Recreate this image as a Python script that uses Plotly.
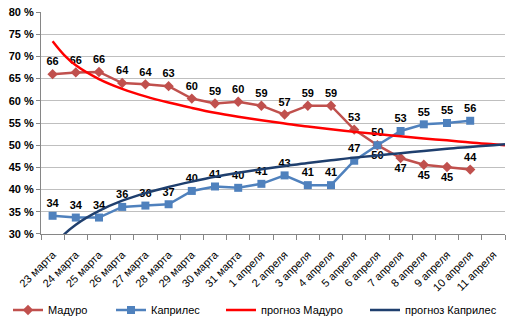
import plotly.graph_objects as go

categories = ["23 марта", "24 марта", "25 марта", "26 марта", "27 марта", "28 марта",
              "29 марта", "30 марта", "31 марта", "1 апреля", "2 апреля", "3 апреля",
              "4 апреля", "5 апреля", "6 апреля", "7 апреля", "8 апреля", "9 апреля",
              "10 апреля", "11 апреля"]

maduro = [66.0, 66.4, 66.5, 64.0, 63.7, 63.3, 60.5, 59.4, 59.8, 58.9, 56.9, 58.9,
          58.9, 53.5, 50.0, 47.1, 45.6, 45.1, 44.5]
maduro_labels = ["66", "66", "66", "64", "64", "63", "60", "59", "60", "59", "57", "59",
                 "59", "53", "50", "47", "45", "45", "44"]

capriles = [34.1, 33.7, 33.7, 36.1, 36.4, 36.7, 39.7, 40.7, 40.4, 41.3, 43.2, 41.0,
            41.0, 46.5, 50.0, 53.2, 54.7, 55.0, 55.5]
capriles_labels = ["34", "34", "34", "36", "36", "37", "40", "41", "40", "41", "43", "41",
                   "41", "47", "50", "53", "55", "55", "56"]

# forecast (trend) curves at each category position
trend_pos = [1, 1.5, 2, 3, 4, 5, 6, 7, 8, 9, 10, 11, 12, 13, 14, 15, 16, 17, 18, 19, 20, 20.5]
forecast_maduro = [73.4, 70.3, 68.0, 64.9, 62.7, 61.0, 59.6, 58.4, 57.3, 56.4, 55.6, 54.9,
                   54.2, 53.6, 53.0, 52.5, 52.0, 51.5, 51.1, 50.6, 50.2, 50.0]
forecast_capriles = [26.7, 29.9, 32.1, 35.2, 37.5, 39.2, 40.6, 41.8, 42.9, 43.8, 44.6, 45.3,
                     46.0, 46.6, 47.2, 47.7, 48.2, 48.7, 49.2, 49.6, 50.0, 50.2]

ytick_vals = [30, 35, 40, 45, 50, 55, 60, 65, 70, 75, 80]
ytick_text = [f"{v} %" for v in ytick_vals]

FONT = "Liberation Sans"
x_pos = list(range(1, len(categories) + 1))

mad_pos = ["top center"] * len(maduro)
for i in (15, 16, 17):
    mad_pos[i] = "bottom center"
cap_pos = ["top center"] * len(capriles)
cap_pos[14] = "bottom center"

fig = go.Figure()
fig.add_trace(go.Scatter(
    x=x_pos[:len(maduro)], y=maduro, name="Мадуро", mode="lines+markers+text",
    line=dict(color="#C0504D", width=2.5),
    marker=dict(symbol="diamond", size=8, color="#C0504D"),
    text=maduro_labels, textposition=mad_pos,
    textfont=dict(family=FONT, size=11, color="black", weight="bold"),
    cliponaxis=False, legend="legend"))
fig.add_trace(go.Scatter(
    x=x_pos[:len(capriles)], y=capriles, name="Каприлес", mode="lines+markers+text",
    line=dict(color="#4F81BD", width=2.5),
    marker=dict(symbol="square", size=8, color="#4F81BD"),
    text=capriles_labels, textposition=cap_pos,
    textfont=dict(family=FONT, size=11, color="black", weight="bold"),
    cliponaxis=False, legend="legend2"))
fig.add_trace(go.Scatter(
    x=trend_pos, y=forecast_maduro, name="прогноз Мадуро", mode="lines",
    line=dict(color="#FF0000", width=2.5, shape="spline"), legend="legend3"))
fig.add_trace(go.Scatter(
    x=trend_pos, y=forecast_capriles, name="прогноз Каприлес", mode="lines",
    line=dict(color="#1F3F6E", width=2.5, shape="spline"), legend="legend4"))

leg_common = dict(orientation="h", xref="container", yref="container",
                  yanchor="middle", y=(326 - 310) / 326, xanchor="left",
                  font=dict(family=FONT, size=11, color="black"),
                  bgcolor="rgba(0,0,0,0)", itemwidth=30)

fig.update_layout(
    width=507, height=326,
    margin=dict(l=41, r=2, t=12, b=91),
    paper_bgcolor="white", plot_bgcolor="white",
    font=dict(family=FONT, size=11, color="black"),
    xaxis=dict(range=[0.5, 20.5], tickmode="array", tickvals=x_pos, ticktext=categories,
               tickangle=-45, showgrid=False, zeroline=False, showline=True,
               linecolor="#868686", linewidth=1, ticks="", ticklabelstandoff=9,
               tickfont=dict(family=FONT, size=11),
               minor=dict(ticks="outside", tick0=0.5, dtick=1, ticklen=5,
                          tickcolor="#868686", showgrid=False)),
    yaxis=dict(range=[30, 80], tickmode="array", tickvals=ytick_vals, ticktext=ytick_text,
               showgrid=True, gridcolor="#BFBFBF", gridwidth=1, zeroline=False,
               showline=True, linecolor="#868686", linewidth=1,
               ticks="outside", ticklen=4, tickcolor="#868686",
               tickfont=dict(family=FONT, size=11, weight="bold")),
    showlegend=True,
    legend=dict(x=8 / 507, **leg_common),
    legend2=dict(x=111 / 507, **leg_common),
    legend3=dict(x=221 / 507, **leg_common),
    legend4=dict(x=365 / 507, **leg_common),
)

fig.write_html("out.html")
